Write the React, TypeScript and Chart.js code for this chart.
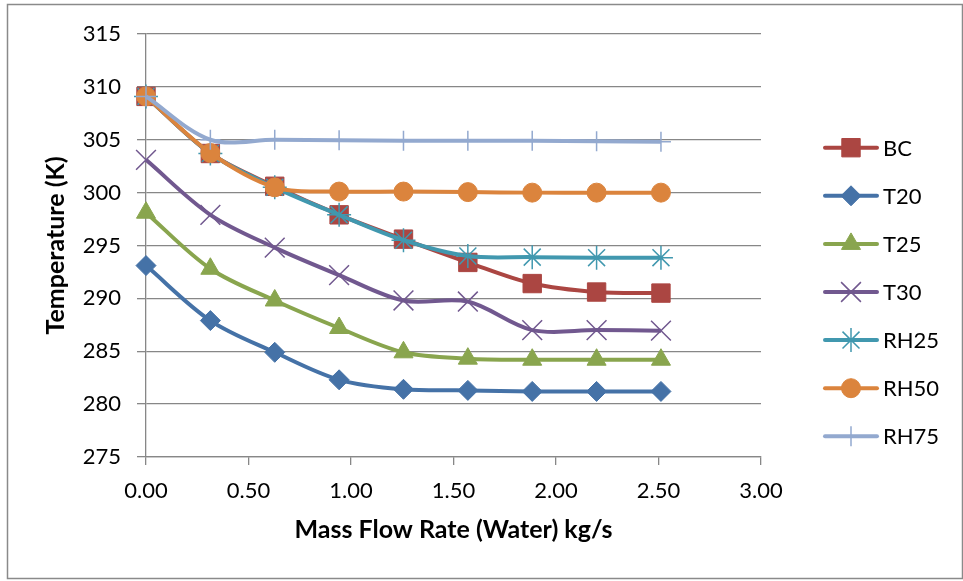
import React, { useEffect, useRef } from 'react';
import Chart from 'chart.js/auto';
import { drawPoint } from 'chart.js/helpers';

// Mass flow rate of water (kg/s)
const flowRates = [0, 0.314, 0.628, 0.942, 1.256, 1.57, 1.884, 2.198, 2.512];

// Outlet temperatures (K) for each case
const bc = [309.1, 303.7, 300.6, 297.9, 295.6, 293.4, 291.4, 290.6, 290.5];
const t20 = [293.1, 287.9, 284.9, 282.3, 281.4, 281.3, 281.2, 281.2, 281.2];
const t25 = [298.1, 292.8, 289.8, 287.2, 284.9, 284.3, 284.2, 284.2, 284.2];
const t30 = [303.1, 297.9, 294.8, 292.2, 289.8, 289.7, 287.0, 287.0, 286.95];
const rh25 = [309.1, 303.7, 300.5, 297.9, 295.5, 294.0, 293.9, 293.85, 293.85];
const rh50 = [309.1, 303.75, 300.5, 300.1, 300.1, 300.05, 300.0, 300.0, 300.0];
const rh75 = [309.1, 305.0, 305.0, 304.95, 304.9, 304.9, 304.9, 304.85, 304.8];

const seriesNames = ['BC', 'T20', 'T25', 'T30', 'RH25', 'RH50', 'RH75'];
const seriesValues = [bc, t20, t25, t30, rh25, rh50, rh75];

// Axis tick labels
const xTickValues = [0, 0.5, 1, 1.5, 2, 2.5, 3];
const yTickValues = [275, 280, 285, 290, 295, 300, 305, 310, 315];

// Series styling
const seriesColors = ['#AB4642', '#4572A7', '#89A54E', '#71588F', '#4198AF', '#DB843D', '#93A9CF'];
const seriesMarkers = ['rect', 'rectRot', 'triangle', 'crossRot', 'star', 'circle', 'cross'];
const markerRadii = [13, 10, 11, 14, 12, 9.5, 10];
const markerBorders = [1, 1, 1, 1.5, 1.5, 1, 1.5];

const FONT = 'Lato, "Open Sans", sans-serif';
const GRID = '#878787';

const legendAndFrame = {
  id: 'legendAndFrame',
  afterDraw(chart: any) {
    const ctx = chart.ctx as CanvasRenderingContext2D;
    ctx.save();
    // outer frame
    ctx.strokeStyle = '#8a8a8a';
    ctx.lineWidth = 1.5;
    ctx.strokeRect(7.5, 4.5, 955, 574);

    // legend rows
    const top = 147.7;
    const step = 48.1;
    seriesNames.forEach((name, i) => {
      const y = top + i * step;
      ctx.strokeStyle = seriesColors[i];
      ctx.lineWidth = 4;
      ctx.lineCap = 'round';
      ctx.beginPath();
      ctx.moveTo(825, y);
      ctx.lineTo(877, y);
      ctx.stroke();
      ctx.fillStyle = seriesColors[i];
      ctx.strokeStyle = seriesColors[i];
      ctx.lineWidth = markerBorders[i];
      ctx.lineCap = 'butt';
      drawPoint(ctx, { pointStyle: seriesMarkers[i], rotation: 0, radius: markerRadii[i], borderWidth: markerBorders[i] } as any, 851, y);
      ctx.fillStyle = '#000';
      ctx.font = `22px ${FONT}`;
      ctx.textBaseline = 'middle';
      ctx.textAlign = 'left';
      ctx.fillText(name, 883, y + 1);
    });
    ctx.restore();
  },
};

export default function App() {
  const canvasRef = useRef<HTMLCanvasElement | null>(null);

  useEffect(() => {
    const canvas = canvasRef.current;
    if (!canvas) return;
    const datasets = seriesNames.map((name, i) => ({
      label: name,
      data: flowRates.map((x, k) => ({ x, y: seriesValues[i][k] })),
      borderColor: seriesColors[i],
      backgroundColor: seriesColors[i],
      borderWidth: 4,
      tension: 0.33,
      pointStyle: seriesMarkers[i],
      pointRadius: markerRadii[i],
      pointBorderWidth: markerBorders[i],
      pointBorderColor: seriesColors[i],
      pointBackgroundColor: seriesColors[i],
      order: seriesNames.length - i,
      clip: false as any,
    }));

    const chart = new Chart(canvas, {
      type: 'line',
      data: { datasets },
      plugins: [legendAndFrame],
      options: {
        animation: false,
        responsive: false,
        devicePixelRatio: 1,
        layout: { padding: { left: 0, top: 34, right: 202, bottom: 0 } },
        plugins: { legend: { display: false }, tooltip: { enabled: false } },
        scales: {
          x: {
            type: 'linear',
            min: 0,
            max: 3,
            afterBuildTicks: (scale: any) => {
              scale.ticks = xTickValues.map((v) => ({ value: v }));
            },
            afterFit: (scale: any) => {
              scale.height = 124;
            },
            ticks: {
              callback: (v: any) => Number(v).toFixed(2),
              font: { family: FONT, size: 22 },
              color: '#000',
              padding: 13,
              maxRotation: 0,
            },
            grid: { drawOnChartArea: false, drawTicks: true, tickLength: 8, color: GRID, lineWidth: 1.3 },
            border: { display: true, color: GRID, width: 1.3 },
            title: {
              display: true,
              text: 'Mass Flow Rate (Water) kg/s',
              font: { family: FONT, size: 25, weight: 'bold' },
              color: '#000',
              padding: { top: 0, bottom: 36 },
            },
          },
          y: {
            type: 'linear',
            min: 275,
            max: 315,
            afterBuildTicks: (scale: any) => {
              scale.ticks = yTickValues.map((v) => ({ value: v }));
            },
            afterFit: (scale: any) => {
              scale.width = 146;
            },
            ticks: {
              font: { family: FONT, size: 22 },
              color: '#000',
              padding: 16,
            },
            grid: { drawTicks: true, tickLength: 9, color: GRID, lineWidth: 1.3 },
            border: { display: true, color: GRID, width: 1.3 },
            title: {
              display: true,
              text: 'Temperature (K)',
              font: { family: FONT, size: 25, weight: 'bold' },
              color: '#000',
              padding: { top: 41, bottom: 0 },
            },
          },
        },
      },
    });
    return () => chart.destroy();
  }, []);

  return (
    <div style={{ position: 'fixed', left: 0, top: 0, width: 963, height: 581, background: '#fff' }}>
      <canvas ref={canvasRef} width={963} height={581} style={{ width: 963, height: 581, display: 'block' }} />
    </div>
  );
}
